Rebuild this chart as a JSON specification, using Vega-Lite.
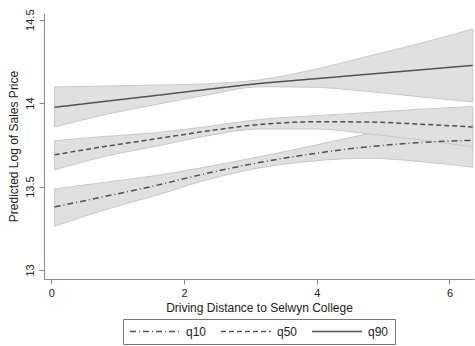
{
  "$schema": "https://vega.github.io/schema/vega-lite/v6.json",
  "width": 430,
  "height": 266,
  "autosize": {"type": "none"},
  "padding": {"left": 44, "top": 13, "right": 1, "bottom": 67},
  "config": {
    "font": "Liberation Sans",
    "view": {"stroke": null},
    "axis": {"grid": false, "domainColor": "#8a8a8a", "tickColor": "#8a8a8a", "labelColor": "#222", "titleColor": "#222", "labelFontSize": 11, "titleFontSize": 12, "titleFontWeight": "normal", "tickSize": 5}
  },
  "data": {"values": [
    {"x": 0.05, "q": "q10", "fit": 13.378, "lo": 13.262, "hi": 13.486},
    {"x": 0.8, "q": "q10", "fit": 13.44, "lo": 13.36, "hi": 13.525},
    {"x": 1.56, "q": "q10", "fit": 13.505, "lo": 13.445, "hi": 13.565},
    {"x": 2.3, "q": "q10", "fit": 13.575, "lo": 13.535, "hi": 13.615},
    {"x": 3.15, "q": "q10", "fit": 13.645, "lo": 13.613, "hi": 13.68},
    {"x": 4.0, "q": "q10", "fit": 13.70, "lo": 13.655, "hi": 13.75},
    {"x": 4.77, "q": "q10", "fit": 13.738, "lo": 13.67, "hi": 13.816},
    {"x": 5.5, "q": "q10", "fit": 13.762, "lo": 13.652, "hi": 13.875},
    {"x": 6.35, "q": "q10", "fit": 13.777, "lo": 13.616, "hi": 13.94},
    {"x": 0.05, "q": "q50", "fit": 13.69, "lo": 13.60, "hi": 13.775},
    {"x": 0.8, "q": "q50", "fit": 13.74, "lo": 13.68, "hi": 13.80},
    {"x": 1.56, "q": "q50", "fit": 13.785, "lo": 13.74, "hi": 13.822},
    {"x": 2.3, "q": "q50", "fit": 13.83, "lo": 13.80, "hi": 13.857},
    {"x": 3.15, "q": "q50", "fit": 13.872, "lo": 13.845, "hi": 13.902},
    {"x": 4.0, "q": "q50", "fit": 13.888, "lo": 13.845, "hi": 13.925},
    {"x": 4.77, "q": "q50", "fit": 13.887, "lo": 13.816, "hi": 13.943},
    {"x": 5.5, "q": "q50", "fit": 13.875, "lo": 13.783, "hi": 13.962},
    {"x": 6.35, "q": "q50", "fit": 13.857, "lo": 13.738, "hi": 13.98},
    {"x": 0.05, "q": "q90", "fit": 13.975, "lo": 13.857, "hi": 14.097},
    {"x": 0.8, "q": "q90", "fit": 14.01, "lo": 13.93, "hi": 14.102},
    {"x": 1.56, "q": "q90", "fit": 14.045, "lo": 13.99, "hi": 14.108},
    {"x": 2.3, "q": "q90", "fit": 14.08, "lo": 14.045, "hi": 14.115},
    {"x": 3.15, "q": "q90", "fit": 14.118, "lo": 14.098, "hi": 14.14},
    {"x": 3.95, "q": "q90", "fit": 14.145, "lo": 14.095, "hi": 14.20},
    {"x": 4.77, "q": "q90", "fit": 14.173, "lo": 14.07, "hi": 14.28},
    {"x": 5.58, "q": "q90", "fit": 14.20, "lo": 14.037, "hi": 14.36},
    {"x": 6.35, "q": "q90", "fit": 14.226, "lo": 14.007, "hi": 14.444}
  ]},
  "layer": [
    {
      "mark": {"type": "area", "fill": "#e0e0e0", "fillOpacity": 1, "stroke": "#c8c8c8", "strokeWidth": 1, "orient": "vertical", "interpolate": "monotone"},
      "encoding": {
        "x": {"field": "x", "type": "quantitative", "scale": {"domain": [-0.11, 6.37], "nice": false, "zero": false},
          "axis": {"values": [0, 2, 4, 6], "format": "d", "title": "Driving Distance to Selwyn College", "labelPadding": 3, "titlePadding": 4}},
        "y": {"field": "lo", "type": "quantitative", "scale": {"domain": [12.946, 14.54], "nice": false, "zero": false},
          "axis": {"values": [13, 13.5, 14, 14.5], "format": "~g", "title": "Predicted Log of Sales Price", "labelAngle": -90, "labelAlign": "center", "labelBaseline": "bottom", "labelPadding": 4, "titlePadding": 4}},
        "y2": {"field": "hi"},
        "detail": {"field": "q", "type": "nominal"}
      }
    },
    {
      "mark": {"type": "line", "color": "#505050", "strokeWidth": 1.5, "interpolate": "monotone"},
      "encoding": {
        "x": {"field": "x", "type": "quantitative"},
        "y": {"field": "fit", "type": "quantitative"},
        "strokeDash": {"field": "q", "type": "nominal",
          "scale": {"domain": ["q10", "q50", "q90"], "range": [[6, 3, 1, 3], [5, 3], [1, 0]]},
          "legend": {"title": null, "orient": "none", "legendX": 79, "legendY": 306, "direction": "horizontal",
            "symbolType": "stroke", "symbolSize": 2500, "clipHeight": 13, "symbolStrokeColor": "#555555", "symbolStrokeWidth": 1.4,
            "labelFontSize": 12, "labelColor": "#222", "labelOffset": 5, "columnPadding": 13,
            "strokeColor": "#777777", "padding": 6, "fillColor": "white"}}
      }
    }
  ]
}
